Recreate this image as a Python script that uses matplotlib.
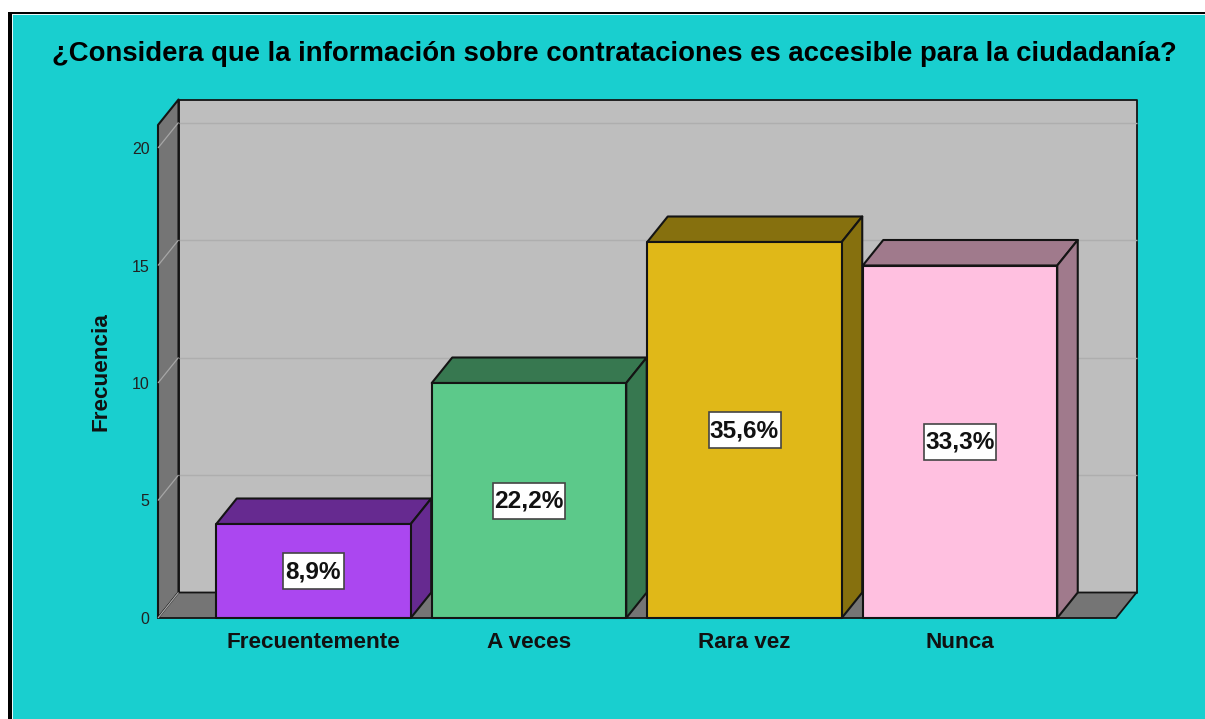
#!bin/python3

import matplotlib
matplotlib.use('Agg')
import matplotlib.pyplot as plt
from matplotlib.patches import Polygon, Rectangle

plt.rcParams['font.family'] = ['Liberation Sans', 'DejaVu Sans']

title = '¿Considera que la información sobre contrataciones es accesible para la ciudadanía?'
categories = ['Frecuentemente', 'A veces', 'Rara vez', 'Nunca']
counts = [4, 10, 16, 15]
percent_labels = ['8,9%', '22,2%', '35,6%', '33,3%']
yticks = [0, 5, 10, 15, 20]
front_colors = ['#AB47F0', '#5CC98A', '#E0B818', '#FFC0E0']
side_colors = ['#662A90', '#377850', '#86700E', '#A07A8C']

W, H = 1205, 719
BG = '#19CFCF'
WALL = '#BEBEBE'
DARK_WALL = '#757575'
EDGE = '#141414'

# 3d look: depth of the box in data units
px_x = 215.5
px_y = 23.5
dx = 20.5 / px_x
dy = 25.5 / px_y
bar_w = 194.5 / px_x
xmin = (158 - 313.5) / px_x
xmax = (1116 - 313.5) / px_x
ymax = (618 - 125) / px_y

fig = plt.figure(figsize=(W / 100, H / 100), dpi=100, facecolor='white')

# outer frame, only left and top have a border
fig.patches.append(Rectangle((8.3 / W, 0), 1, 1 - 12.3 / H, transform=fig.transFigure, fc='black', ec='none', zorder=-3))
fig.patches.append(Rectangle((12 / W, 0), 1, 1 - 14.3 / H, transform=fig.transFigure, fc='#E8F8F8', ec='none', zorder=-2))
fig.patches.append(Rectangle((13 / W, 0), 1, 1 - 15 / H, transform=fig.transFigure, fc=BG, ec='none', zorder=-1))

ax = fig.add_axes([158 / W, 1 - 618 / H, (1116 - 158) / W, (618 - 125) / H])
ax.patch.set_visible(False)
ax.set_xlim(xmin, xmax)
ax.set_ylim(0, ymax)
for s in ax.spines.values():
    s.set_visible(False)


def face(pts, fc, lw=1.5, z=2):
    ax.add_patch(Polygon(pts, closed=True, fc=fc, ec=EDGE, lw=lw, clip_on=False, zorder=z, joinstyle='round'))


# walls and floor
face([(xmin + dx, dy), (xmax + dx, dy), (xmax + dx, ymax + dy), (xmin + dx, ymax + dy)], WALL, lw=1.3, z=1)
face([(xmin, 0), (xmin + dx, dy), (xmin + dx, ymax + dy), (xmin, ymax)], DARK_WALL, z=1)
face([(xmin, 0), (xmax, 0), (xmax + dx, dy), (xmin + dx, dy)], DARK_WALL, lw=1.3, z=1)

# gridlines run over the side wall and along the back wall
for t in yticks:
    ax.plot([xmin, xmin + dx], [t, t + dy], color='#A6A6A6', lw=0.9, clip_on=False, zorder=1.5,
            solid_capstyle='butt')
    if t > 0:
        ax.plot([xmin + dx, xmax + dx], [t + dy, t + dy], color='#AEAEAE', lw=1.0, clip_on=False, zorder=1.5,
                solid_capstyle='butt')

for i, c in enumerate(counts):
    x0 = i - bar_w / 2
    x1 = i + bar_w / 2
    face([(x0, c), (x1, c), (x1 + dx, c + dy), (x0 + dx, c + dy)], side_colors[i], z=3)
    face([(x1, 0), (x1 + dx, dy), (x1 + dx, c + dy), (x1, c)], side_colors[i], z=3)
    face([(x0, 0), (x1, 0), (x1, c), (x0, c)], front_colors[i], z=4)
    # label box, wider for the two digit percentages
    box_w = (61 if len(percent_labels[i]) == 4 else 72) / px_x
    box_h = 36 / px_y
    ax.add_patch(Rectangle((i - box_w / 2, c / 2 - box_h / 2), box_w, box_h, fc='white', ec='#444444', lw=1.2, zorder=5))
    ax.text(i, c / 2 - 0.03, percent_labels[i], ha='center', va='center', fontsize=17.6, fontweight='bold',
            color='#111111', zorder=6)

ax.set_xticks(range(len(categories)))
ax.set_xticklabels(categories, fontsize=16.2, fontweight='bold', color='#111111')
ax.set_yticks(yticks)
ax.set_yticklabels([str(t) for t in yticks], fontsize=11.5, color='#222222')
ax.tick_params(axis='both', length=0)
ax.tick_params(axis='x', pad=10)
ax.tick_params(axis='y', pad=6)

fig.text(101 / W, 1 - 372 / H, 'Frecuencia', rotation=90, ha='center', va='center',
         fontsize=16.2, fontweight='bold', color='#111111')
fig.text(614 / W, 1 - 54 / H, title, ha='center', va='center', fontsize=19.8, fontweight='bold', color='black')

plt.savefig('out.png', dpi=100, format='png', facecolor='white')
